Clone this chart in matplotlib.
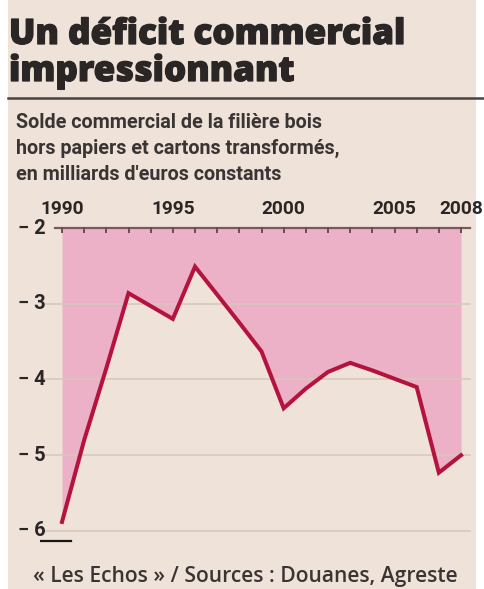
import matplotlib.pyplot as plt
import matplotlib.patheffects as pe
from matplotlib.lines import Line2D
from matplotlib.patches import Rectangle

# Solde commercial de la filière bois, milliards d'euros constants
years = [1990, 1991, 1992, 1993, 1994, 1995, 1996, 1997, 1998, 1999,
         2000, 2001, 2002, 2003, 2004, 2005, 2006, 2007, 2008]
solde = [-5.88, -4.80, -3.85, -2.86, -3.03, -3.20, -2.51, -2.88, -3.25, -3.63,
         -4.38, -4.12, -3.90, -3.78, -3.88, -3.99, -4.10, -5.23, -5.00]
year_labels = [1990, 1995, 2000, 2005, 2008]
y_ticks = [-2, -3, -4, -5, -6]

W, H = 484, 589
BG = '#EFE3D9'
PINK = '#EDB1C7'
RED = '#B5133F'
INK = '#2B2626'
narrow = ['Roboto', 'DejaVu Sans']
human = ['Open Sans', 'DejaVu Sans']

fig = plt.figure(figsize=(W / 100, H / 100), dpi=100, facecolor='white')


def fx(px):
    return px / W


def fy(py):
    return 1 - py / H


# beige panel
fig.patches.append(Rectangle((fx(8), 0), fx(468), 1, transform=fig.transFigure,
                             facecolor=BG, edgecolor='none', zorder=-5))

# title block, thickened a little with a stroke
heavy = [pe.withStroke(linewidth=0.9, foreground=INK)]
fig.text(fx(9), fy(44), 'Un déficit commercial', family=human, weight=800,
         fontsize=25.2, color=INK, va='baseline', path_effects=heavy)
fig.text(fx(9), fy(81), 'impressionnant', family=human, weight=800,
         fontsize=25.2, color=INK, va='baseline', path_effects=heavy)
fig.lines.append(Line2D([fx(8), 1], [fy(98), fy(98)], transform=fig.transFigure,
                        color='#4A4343', lw=1.8))

subtitle = ['Solde commercial de la filière bois',
            'hors papiers et cartons transformés,',
            "en milliards d'euros constants"]
for i, s in enumerate(subtitle):
    fig.text(fx(16), fy(128 + 26 * i), s, family=narrow, weight='bold',
             fontsize=14.2, color='#3A3434', va='baseline')

fig.text(fx(33), fy(582), '« Les Echos » / Sources : Douanes, Agreste',
         family=human, weight=600, fontsize=15.1, color='#3A3434', va='baseline')

# plot area
ax = fig.add_axes([fx(39.83), fy(546.15), fx(472.1 - 39.83), (546.15 - 212.85) / H])
ax.set_xlim(1989, 2008.5)
ax.set_ylim(-6.2, -1.8)
ax.set_facecolor('none')
ax.axis('off')

ax.fill_between(years, solde, -2, color=PINK, lw=0, zorder=1)

# horizontal guides
for v in y_ticks[1:]:
    ax.plot([1989.15, 2008.4], [v, v], color='#D6C8BE', lw=1.4, alpha=0.8, zorder=2)
    ax.text(1989.25, v, f'\u2212 {abs(v)}', family=narrow, weight='bold', fontsize=14.5,
            color=INK, ha='right', va='center', zorder=4)

# top axis with yearly ticks
ax.plot([1989.7, 2008.4], [-2, -2], color='#7E5563', lw=1.6, zorder=3)
ax.vlines(years, -2.07, -1.99, color='#6E4A57', lw=1.4, zorder=3)
ax.text(1989.25, -2, '\u2212 2', family=narrow, weight='bold', fontsize=14.5,
        color=INK, ha='right', va='center')
for yr in year_labels:
    ax.text(yr, -1.87, str(yr), family=narrow, weight='bold', fontsize=13.8,
            color=INK, ha='center', va='bottom', clip_on=False)

ax.plot([1989.05, 1990.4], [-6.13, -6.13], color='#1A1616', lw=1.6, zorder=3)

ax.plot(years, solde, color=RED, lw=2.9, solid_joinstyle='miter', zorder=5)

fig.savefig('out.png', dpi=100, facecolor=fig.get_facecolor())
